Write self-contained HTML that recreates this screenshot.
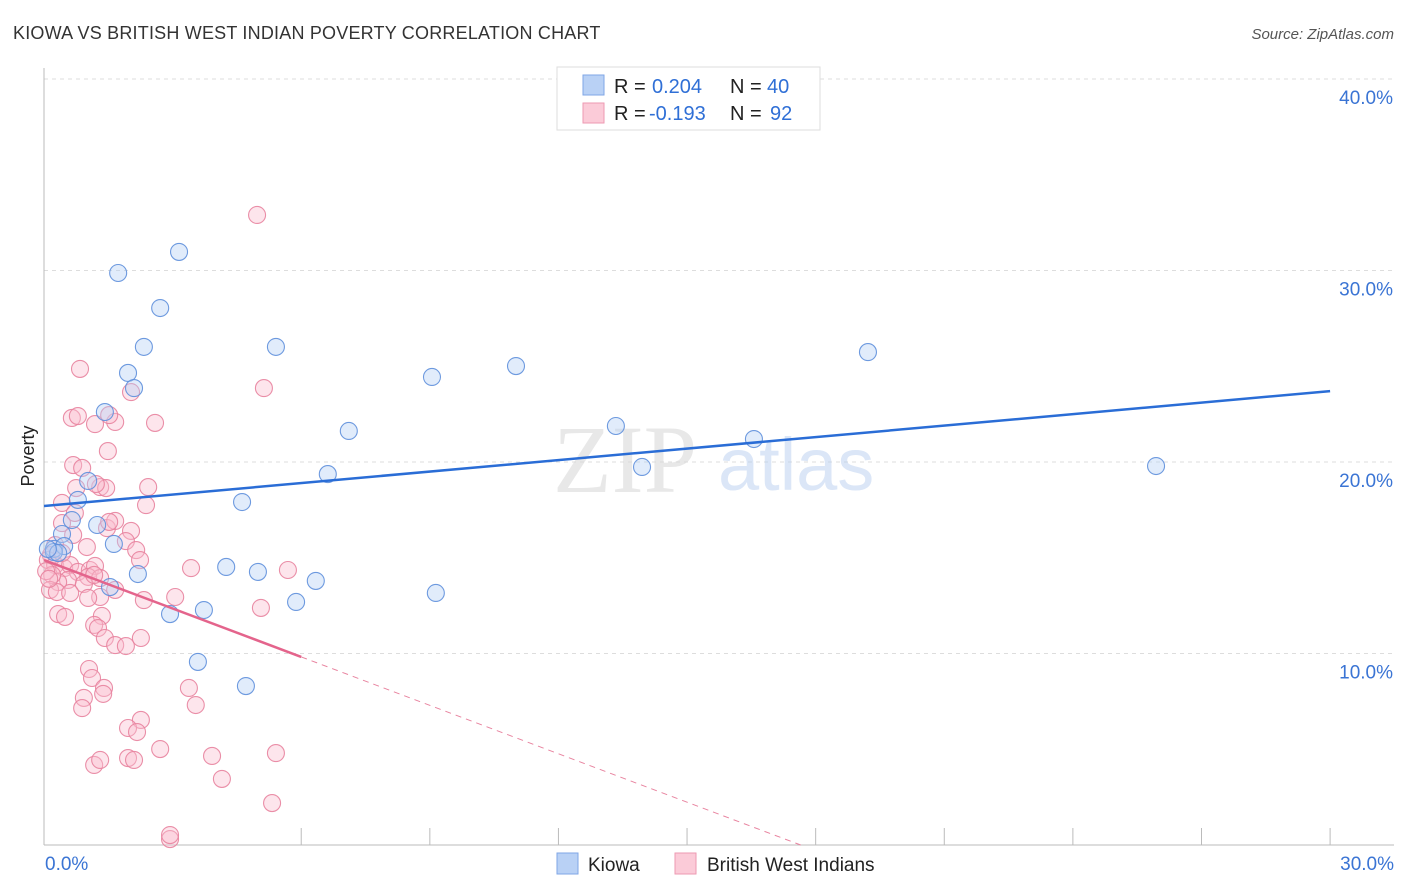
<!DOCTYPE html>
<html><head><meta charset="utf-8"><style>
body{margin:0;background:#fff;width:1406px;height:892px;overflow:hidden;font-family:"Liberation Sans",sans-serif}
svg{position:absolute;left:0;top:0}
</style></head><body>
<svg id="chart" width="1406" height="892">
<text x="13" y="39" font-size="18" fill="#333" letter-spacing="0.2">KIOWA VS BRITISH WEST INDIAN POVERTY CORRELATION CHART</text>
<text x="1394" y="39" font-size="15" fill="#555" font-style="italic" text-anchor="end">Source: ZipAtlas.com</text>
<text x="34" y="456" font-size="18" fill="#222" text-anchor="middle" transform="rotate(-90 34 456)">Poverty</text>
<g id="grid"></g>
<text x="553" y="492" font-size="96" font-family="Liberation Serif,serif" fill="#d8d8d8" fill-opacity="0.6">ZIP</text>
<text x="718" y="490" font-size="74" fill="#b8cdef" fill-opacity="0.5">atlas</text>
<g id="axes"></g>
<g id="pink"></g>
<g id="blue"></g>
<g id="trends"></g>
<g>
<rect x="557" y="67" width="263" height="63" fill="#fff" stroke="#ddd"/>
<rect x="583" y="75" width="21" height="20" fill="#b9d1f5" stroke="#7fa6e6"/>
<rect x="583" y="103" width="21" height="20" fill="#fbcbd8" stroke="#ee9ab2"/>
<text x="614" y="93" font-size="20" fill="#222">R = <tspan fill="#2f6fd6" x="652">0.204</tspan><tspan x="730" fill="#222">N = </tspan><tspan fill="#2f6fd6" x="767">40</tspan></text>
<text x="614" y="120" font-size="20" fill="#222">R = <tspan fill="#2f6fd6" x="649">-0.193</tspan><tspan x="730" fill="#222">N = </tspan><tspan fill="#2f6fd6" x="770">92</tspan></text>
</g>
<g>
<rect x="557" y="853" width="21" height="21" fill="#b9d1f5" stroke="#7fa6e6"/>
<text x="588" y="871" font-size="19" fill="#222">Kiowa</text>
<rect x="675" y="853" width="21" height="21" fill="#fbcbd8" stroke="#ee9ab2"/>
<text x="707" y="871" font-size="19" fill="#222">British West Indians</text>
</g>
</svg>
<script>
const yTicks=[10,20,30,40];
const yTickLabels=["10.0%","20.0%","30.0%","40.0%"];
const xTickLabels=["0.0%","30.0%"];
const kiowaX=[1.73,3.15,2.71,2.33,5.41,1.96,2.10,1.42,9.05,11.01,19.22,7.11,13.34,16.56,13.95,25.94,6.62,4.62,0.79,1.03,1.24,1.63,0.42,0.23,0.47,0.65,4.25,4.99,2.19,6.34,1.54,5.88,9.14,3.73,2.94,3.59,4.71,0.23,0.33,0.09];
const kiowaY=[29.87,30.97,28.04,26.01,26.01,24.65,23.86,22.61,24.44,25.01,25.74,21.62,21.88,21.20,19.74,19.79,19.37,17.91,18.02,19.01,16.71,15.72,16.24,15.46,15.61,16.97,14.52,14.26,14.15,13.79,13.47,12.69,13.16,12.27,12.06,9.56,8.30,15.30,15.25,15.46];
const bwiX=[4.97,0.84,5.13,2.03,0.65,0.79,1.19,1.66,1.52,2.59,1.49,0.68,0.89,1.31,0.75,2.43,1.45,1.21,0.42,2.38,0.72,0.42,1.47,1.66,1.52,2.03,0.68,1.91,2.15,2.24,1.00,0.26,0.16,0.09,0.26,0.47,0.61,0.79,1.07,1.19,1.03,0.56,0.33,0.19,0.14,0.30,0.93,1.31,1.66,2.33,1.31,1.03,0.33,0.49,1.35,3.06,3.43,5.69,5.06,1.17,1.26,1.42,1.66,1.91,2.26,1.05,1.12,1.40,1.38,0.93,0.89,3.38,3.54,2.26,1.96,2.17,2.71,1.17,1.31,1.96,2.10,3.92,5.41,4.15,5.32,2.94,2.94,1.17,0.42,0.61,0.05,0.12];
const bwiY=[32.9,24.86,23.86,23.65,22.3,22.4,21.98,22.09,22.45,22.04,20.57,19.84,19.69,18.69,18.64,18.69,18.64,18.85,17.86,17.75,17.34,16.81,16.55,16.92,16.87,16.40,16.19,15.87,15.40,14.88,15.56,15.66,15.14,14.88,14.62,14.46,14.62,14.26,14.36,14.57,14.0,13.84,13.73,14.1,13.32,13.21,13.63,13.94,13.32,12.79,12.95,12.90,12.06,11.91,11.96,12.95,14.46,14.36,12.38,11.49,11.33,10.81,10.44,10.39,10.81,9.19,8.72,8.20,7.89,7.68,7.15,8.20,7.31,6.53,6.11,5.90,5.01,4.18,4.44,4.54,4.44,4.65,4.80,3.45,2.19,0.31,0.52,14.1,15.25,13.16,14.3,13.9];
const kiowaTrend=[17.7,23.7];
const bwiTrend=[14.88,-0.843];
const NS='http://www.w3.org/2000/svg';
const X=v=>44+v*42.87, Y=v=>845-v*19.15;
function mk(tag,attrs,parent){const e=document.createElementNS(NS,tag);for(const k in attrs)e.setAttribute(k,attrs[k]);parent.appendChild(e);return e;}
const grid=document.getElementById('grid'),axes=document.getElementById('axes');
yTicks.forEach((t,i)=>{
 const l=mk('line',{x1:44,x2:1394,y1:Y(t),y2:Y(t),stroke:'#ddd','stroke-dasharray':'4,4'},grid);
 
 
 const tx=mk('text',{x:1393,y:Y(t)+25,'font-size':19,fill:'#3a74d4','text-anchor':'end'},axes);
 tx.textContent=yTickLabels[i];
 
 
});
const ax=mk('line',{x1:44,x2:44,y1:68,y2:845,stroke:'#bbb'},axes);


const bx=mk('line',{x1:44,x2:1394,y1:845,y2:845,stroke:'#bbb'},axes);


for(let i=2;i<=10;i++){const v=i*3;
 const t=mk('line',{x1:X(v),x2:X(v),y1:828,y2:845,stroke:'#bbb'},axes);
 
 }
[[0,'start',45],[30,'end',1394]].forEach((d,i)=>{
 const t=mk('text',{x:d[2],y:870,'font-size':19,fill:'#3a74d4','text-anchor':d[1]},axes);
 t.textContent=xTickLabels[i];
 
 });
function dots(xs,ys,g,fill,stroke,name){xs.forEach((x,i)=>{
 const c=mk('circle',{cx:X(x),cy:Y(ys[i]),r:8.5,fill:fill,'fill-opacity':0.4,stroke:stroke,'stroke-width':1.1,'stroke-opacity':0.9},g);
 
 });}
dots(bwiX,bwiY,document.getElementById('pink'),'#f9bdd0','#e8839f','bwi-point');
dots(kiowaX,kiowaY,document.getElementById('blue'),'#b5cff4','#5e8fdc','kiowa-point');
const tr=document.getElementById('trends');
const k=mk('line',{x1:X(0),y1:Y(kiowaTrend[0]),x2:X(30),y2:Y(kiowaTrend[1]),stroke:'#2a6dd6','stroke-width':2.5},tr);


const xEnd=-bwiTrend[0]/bwiTrend[1];
const p1=mk('line',{x1:X(0),y1:Y(bwiTrend[0]),x2:X(6),y2:Y(bwiTrend[0]+6*bwiTrend[1]),stroke:'#e4648c','stroke-width':2.5},tr);


const p2=mk('line',{x1:X(6),y1:Y(bwiTrend[0]+6*bwiTrend[1]),x2:X(xEnd),y2:Y(0),stroke:'#e8839f','stroke-width':1,'stroke-dasharray':'6,5'},tr);


</script>
</body></html>
